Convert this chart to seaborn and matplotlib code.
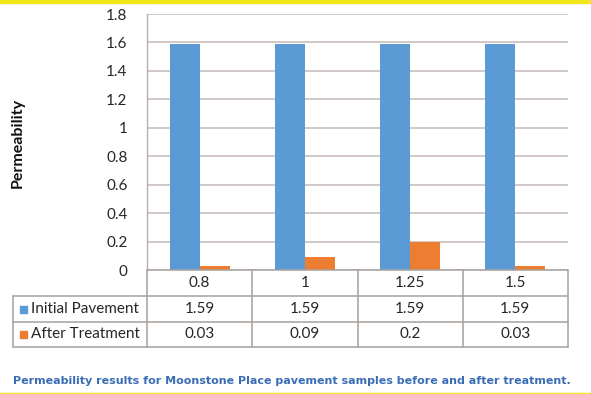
import matplotlib
matplotlib.use("Agg")
import matplotlib.pyplot as plt
import seaborn as sns
import pandas as pd
from matplotlib.lines import Line2D
from matplotlib.patches import Rectangle

# ---- data ----
categories = ["0.8", "1", "1.25", "1.5"]
series_names = ["Initial Pavement", "After Treatment"]
initial_values = [1.59, 1.59, 1.59, 1.59]
after_values = [0.03, 0.09, 0.2, 0.03]
table_initial = ["1.59", "1.59", "1.59", "1.59"]
table_after = ["0.03", "0.09", "0.2", "0.03"]
y_ticks = [0, 0.2, 0.4, 0.6, 0.8, 1, 1.2, 1.4, 1.6, 1.8]
y_tick_labels = ["0", "0.2", "0.4", "0.6", "0.8", "1", "1.2", "1.4", "1.6", "1.8"]
caption = "Permeability results for Moonstone Place pavement samples before and after treatment."

colors = ["#5b9bd5", "#ed7d31"]

df = pd.DataFrame({
    "category": categories * 2,
    "series": [series_names[0]] * 4 + [series_names[1]] * 4,
    "value": initial_values + after_values,
})

sns.set_theme(style="white")
plt.rcParams["font.family"] = ["Lato", "DejaVu Sans"]

W, H = 591, 394
fig = plt.figure(figsize=(W / 100, H / 100), dpi=100)
fig.patch.set_facecolor("white")

def fx(x):
    return x / W

def fy(y):
    return 1 - y / H

L, R, T, B = 147, 568, 14, 270
ax = fig.add_axes([fx(L), fy(B), fx(R) - fx(L), fy(T) - fy(B)])
sns.barplot(data=df, x="category", y="value", hue="series", order=categories,
            hue_order=series_names, palette=colors, width=0.57, gap=0,
            saturation=1, ax=ax, legend=False, edgecolor="none")
ax.set_xlim(-0.5, 3.5)
ax.set_ylim(0, 1.8)
ax.set_yticks(y_ticks)
ax.set_yticklabels(y_tick_labels, fontsize=11, color="#262626")
ax.tick_params(axis="y", length=0, pad=14)
ax.set_xticks([])
ax.set_xlabel("")
ax.set_ylabel("")
ax.yaxis.grid(True, color="#c4bbb8", linewidth=1.1)
ax.set_axisbelow(True)
for s in ["top", "right", "bottom"]:
    ax.spines[s].set_visible(False)
ax.spines["left"].set_color("#b8b0ad")
ax.spines["left"].set_linewidth(1.0)

fig.text(fx(18), fy(143), "Permeability", rotation=90, ha="center", va="center",
         fontsize=11.5, fontweight="bold", color="#111111")

# ---- data table ----
line_col = "#a8a09d"
col_edges = [L + (R - L) * i / len(categories) for i in range(len(categories) + 1)]
rows_y = [270, 296, 322, 347]
x_head = 13

def hline(x0, x1, y):
    fig.add_artist(Line2D([fx(x0), fx(x1)], [fy(y), fy(y)], color=line_col, lw=1.1))

def vline(x, y0, y1):
    fig.add_artist(Line2D([fx(x), fx(x)], [fy(y0), fy(y1)], color=line_col, lw=1.1))

hline(L, R, rows_y[0])
for y in rows_y[1:]:
    hline(x_head, R, y)
vline(x_head, rows_y[1], rows_y[3])
for x in col_edges:
    vline(x, rows_y[0], rows_y[3])

tcol = "#262626"
fs = 11
for i, cat in enumerate(categories):
    cx = (col_edges[i] + col_edges[i + 1]) / 2
    fig.text(fx(cx), fy((rows_y[0] + rows_y[1]) / 2), cat, ha="center", va="center",
             fontsize=fs, color=tcol)
    fig.text(fx(cx), fy((rows_y[1] + rows_y[2]) / 2), table_initial[i], ha="center",
             va="center", fontsize=fs, color=tcol)
    fig.text(fx(cx), fy((rows_y[2] + rows_y[3]) / 2), table_after[i], ha="center",
             va="center", fontsize=fs, color=tcol)

for k, name in enumerate(series_names):
    yc = (rows_y[1 + k] + rows_y[2 + k]) / 2
    fig.add_artist(Rectangle((fx(20), fy(yc + 3.5)), fx(7), 7 / H, color=colors[k],
                             transform=fig.transFigure))
    fig.text(fx(31), fy(yc), name, ha="left", va="center", fontsize=fs, color=tcol)

# ---- caption and decorative lines ----
fig.text(fx(13), fy(381), caption, ha="left", va="center", fontsize=8.0,
         fontweight="bold", color="#3a6db4", family=["DejaVu Sans"])
fig.add_artist(Rectangle((0, fy(2.5)), 1, 2.5 / H, color="#f2e51c",
                         transform=fig.transFigure))
fig.add_artist(Rectangle((0, 0), 1, 1.5 / H, color="#f2e51c",
                         transform=fig.transFigure))

fig.savefig("out.png", dpi=100)
